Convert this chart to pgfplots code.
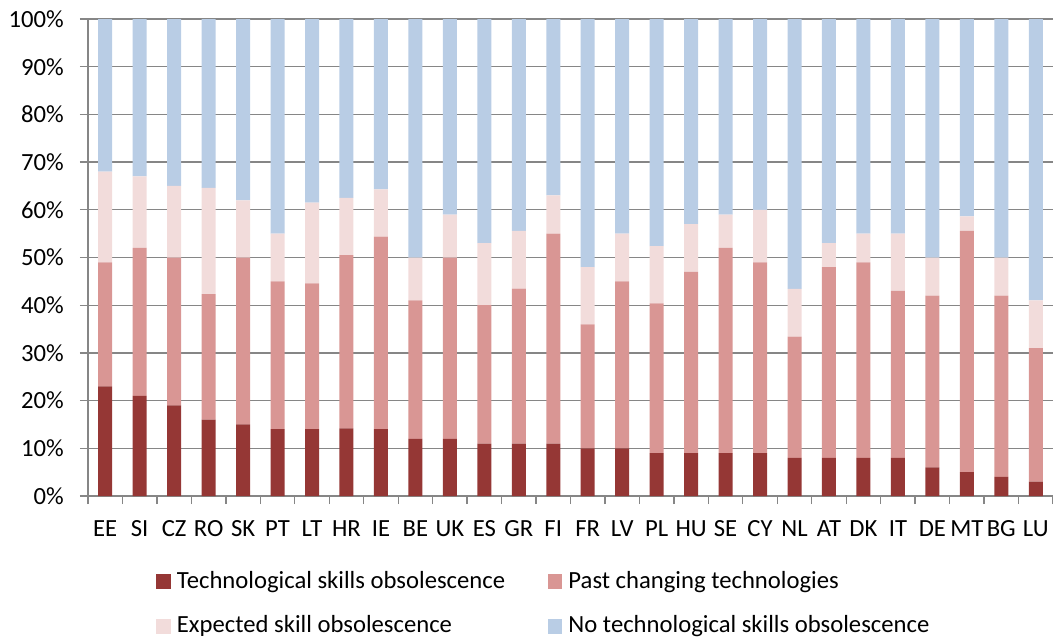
\documentclass[border=0pt]{standalone}
\usepackage{fontspec}
\setmainfont{Carlito}
\usepackage{pgfplots}
\usepackage{pgfplotstable}
\pgfplotsset{compat=1.18}
\definecolor{cTech}{HTML}{953735}
\definecolor{cPast}{HTML}{D99694}
\definecolor{cExp}{HTML}{F2DCDB}
\definecolor{cNo}{HTML}{B9CDE5}
\definecolor{cGrid}{HTML}{868686}
\pgfplotstableread{
x lab d p e n
0 EE 23 26 19 32
1 SI 21 31 15 33
2 CZ 19 31 15 35
3 RO 16 26.3 22.3 35.4
4 SK 15 35 12 38
5 PT 14 31 10 45
6 LT 14 30.6 16.9 38.5
7 HR 14.2 36.3 12 37.5
8 IE 14 40.4 9.9 35.7
9 BE 12 29 9 50
10 UK 12 38 9 41
11 ES 11 29 13 47
12 GR 11 32.5 12.1 44.4
13 FI 11 44 8 37
14 FR 10 26 12 52
15 LV 10 35 10 45
16 PL 9 31.4 12 47.6
17 HU 9 38 10 43
18 SE 9 43 7 41
19 CY 9 40 11 40
20 NL 8 25.4 10 56.6
21 AT 8 40 5 47
22 DK 8 41 6 45
23 IT 8 35 12 45
24 DE 6 36 8 50
25 MT 5 50.6 3 41.4
26 BG 4 38 8 50
27 LU 3 28 10 59
}\data
\begin{document}
\begin{tikzpicture}
\begin{axis}[
  scale only axis,
  width=723.75pt, height=357.75pt,
  xmin=-0.5, xmax=27.5, ymin=0, ymax=100,
  ybar stacked, bar width=10.5pt,
  axis lines*=left,
  axis line style={draw=cGrid, line width=1pt},
  ymajorgrids,
  grid style={draw=cGrid, line width=1pt},
  ytick={0,10,...,100},
  yticklabels={0\%,10\%,20\%,30\%,40\%,50\%,60\%,70\%,80\%,90\%,100\%},
  xtick={0,...,27},
  xticklabels from table={\data}{lab},
  minor xtick={-0.5,0.5,...,27.5},
  tick align=outside,
  major tick length=6pt, minor tick length=6pt,
  tick style={draw=cGrid, line width=1pt},
  major x tick style={draw=none},
  ticklabel style={font=\fontsize{18.5}{22}\selectfont, text=black},
  xticklabel style={inner sep=0pt, anchor=base, yshift=-24pt},
  yticklabel style={inner sep=0pt, xshift=-12pt},
  legend columns=2,
  legend image code/.code={\fill[#1] (0pt,-0.5pt) rectangle (11pt,10.5pt);},
  legend style={
    at={(axis description cs:0.0705,-0.1635)}, anchor=north west,
    draw=none, fill=none, inner sep=0pt,
    font=\fontsize{18.5}{22}\selectfont,
    nodes={inner sep=0pt, text height=10.5pt, text depth=3pt, anchor=base west},
    row sep=20pt,
    /tikz/every odd column/.append style={column sep=4.5pt},
    /tikz/every even column/.append style={column sep=32pt},
  },
  legend cell align=left,
]
\addplot[fill=cTech, draw=none] table[x=x, y=d]{\data};
\addplot[fill=cPast, draw=none] table[x=x, y=p]{\data};
\addplot[fill=cExp, draw=none] table[x=x, y=e]{\data};
\addplot[fill=cNo, draw=none] table[x=x, y=n]{\data};
\legend{Technological skills obsolescence, Past changing technologies, Expected skill obsolescence, No technological skills obsolescence}
\end{axis}
\pgfresetboundingbox
\path[use as bounding box] (-66pt,-108pt) rectangle (723.75pt,372pt);
\end{tikzpicture}
\end{document}
